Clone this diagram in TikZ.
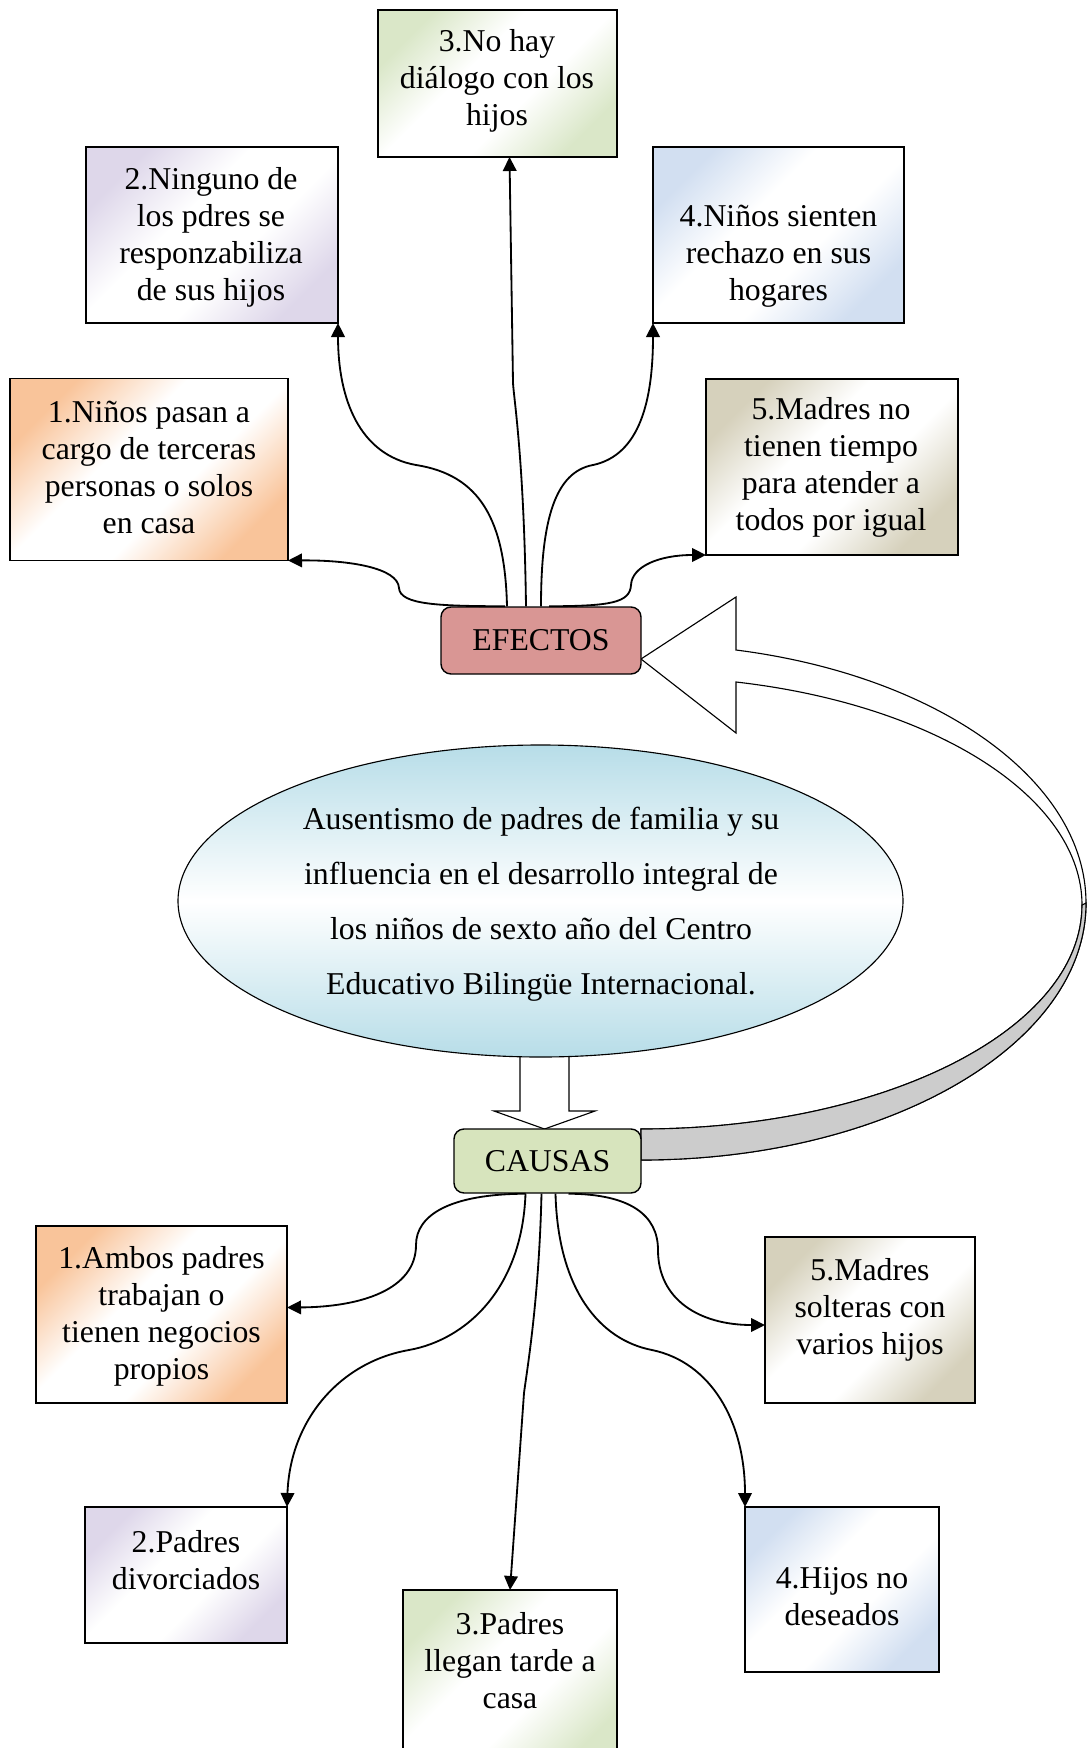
\documentclass[tikz,border=0pt]{standalone}
\usepackage{fontspec}
\setmainfont{Liberation Serif}
\usetikzlibrary{arrows.meta,calc,shapes.geometric}

\definecolor{naranja}{RGB}{249,196,154}
\definecolor{lila}{RGB}{222,215,234}
\definecolor{verde}{RGB}{218,231,200}
\definecolor{celeste}{RGB}{210,223,241}
\definecolor{arena}{RGB}{214,209,188}
\definecolor{rosa}{RGB}{217,150,148}
\definecolor{olivo}{RGB}{215,228,189}
\definecolor{cielo}{RGB}{183,221,232}
\definecolor{cinta}{RGB}{204,204,204}
\colorlet{tono}{white}

\pgfdeclarehorizontalshading[tono]{esquinas}{100bp}{color(0bp)=(tono); color(25bp)=(tono);
    color(42bp)=(white); color(58bp)=(white); color(75bp)=(tono); color(100bp)=(tono)}

\begin{document}
\begin{tikzpicture}[x=0.25mm, y=-0.25mm,
    caja/.style={draw, line width=1.1pt, inner sep=0pt, outer sep=0pt,
        /utils/exec={\colorlet{tono}{#1}}, shade, shading=esquinas, shading angle=-45},
    texto/.style={align=center, inner sep=0pt, font=\fontsize{22.6}{26.3}\selectfont},
    titulo/.style={draw, line width=1pt, rounded corners=2.5mm, inner sep=0pt,
        font=\fontsize{22.6}{26.3}\selectfont},
    flecha/.style={line width=1.3pt, -{Triangle[length=3.5mm, width=3.4mm]}}]

            \useasboundingbox (0,0) rectangle (1088,1748);
            \clip (0,0) rectangle (1088,1748);

            %flecha curva de causas a efectos
            \draw[line width=0.8pt, fill=white] (641,659) -- (736,597) -- (736,650)
                .. controls (940,676) and (1086,782) .. (1086,903)
                .. controls (1086,1045) and (887,1160) .. (641,1160)
                -- (641,1129)
                .. controls (885,1129) and (1082,1029) .. (1082,905)
                .. controls (1082,799) and (938,705) .. (736,682)
                -- (736,733) -- cycle;
            \draw[line width=0.8pt, fill=cinta] (1086,903)
                .. controls (1086,1045) and (887,1160) .. (641,1160)
                -- (641,1129)
                .. controls (885,1129) and (1082,1029) .. (1082,905) -- cycle;

            %flecha hacia causas
            \draw[line width=0.8pt, fill=white] (520,1040) -- (520,1111) -- (494,1111)
                -- (544.5,1129) -- (595,1111) -- (569,1111) -- (569,1040) -- cycle;

            %tema
            \node[ellipse, draw, line width=0.8pt, top color=cielo, bottom color=cielo,
                middle color=white, minimum width=181.25mm, minimum height=78mm,
                inner sep=0pt] (tema) at (540.5,901) {};
            \node[align=center, inner sep=0pt, font=\fontsize{22.6}{39}\selectfont]
                (temat) at (541,904) {Ausentismo de padres de familia y su\\influencia en el desarrollo integral de\\los niños de sexto año del Centro\\Educativo Bilingüe Internacional.};

            \node[titulo, fill=rosa, minimum width=50mm, minimum height=16.75mm] (ef) at (541,640.5) {EFECTOS};
            \node[titulo, fill=olivo, minimum width=46.75mm, minimum height=16mm] (ca) at (547.5,1161) {CAUSAS};

            %efectos
            \node[caja=naranja, minimum width=69.5mm, minimum height=45.5mm] (e1) at (149,469.5) {};
            \node[texto] (e1t) at (149,467.5) {1.Niños pasan a\\cargo de terceras\\personas o solos\\en casa};

            \node[caja=lila, minimum width=63mm, minimum height=44mm] (e2) at (212,235) {};
            \node[texto] (e2t) at (211,237) {2.Ninguno de\\los pdres se\\responzabiliza\\de sus hijos};

            \node[caja=verde, minimum width=59.75mm, minimum height=36.75mm] (e3) at (497.5,83.5) {};
            \node[texto] (e3t) at (497,81) {3.No hay\\diálogo con los\\hijos};

            \node[caja=celeste, minimum width=62.75mm, minimum height=44mm] (e4) at (778.5,235) {};
            \node[texto] (e4t) at (778.5,256) {4.Niños sienten\\rechazo en sus\\hogares};

            \node[caja=arena, minimum width=63mm, minimum height=44mm] (e5) at (832,467) {};
            \node[texto] (e5t) at (831,467.5) {5.Madres no\\tienen tiempo\\para atender a\\todos por igual};

            %causas
            \node[caja=naranja, minimum width=62.75mm, minimum height=44.25mm] (c1) at (161.5,1314.5) {};
            \node[texto] (c1t) at (161.5,1316) {1.Ambos padres\\trabajan o\\tienen negocios\\propios};

            \node[caja=lila, minimum width=50.5mm, minimum height=34mm] (c2) at (186,1575) {};
            \node[texto] (c2t) at (186,1560) {2.Padres\\divorciados};

            \node[caja=verde, minimum width=53.5mm, minimum height=45mm] (c3) at (510,1680) {};
            \node[texto] (c3t) at (510,1661) {3.Padres\\llegan tarde a\\casa};

            \node[caja=celeste, minimum width=48.5mm, minimum height=41.25mm] (c4) at (842,1589.5) {};
            \node[texto] (c4t) at (842,1597) {4.Hijos no\\deseados};

            \node[caja=arena, minimum width=52.5mm, minimum height=41.5mm] (c5) at (870,1320) {};
            \node[texto] (c5t) at (870,1310) {5.Madres\\solteras con\\varios hijos};

            %flechas de efectos
            \draw[flecha] ($(ef.north)+(-36,0)$) .. controls (440,606) and (400,605) .. (399,588)
                .. controls (398,568) and (350,560) .. (e1.south east);
            \draw[flecha] ($(ef.north)+(-34,0)$) .. controls (505,520) and (480,475) .. (416,465)
                .. controls (360,455) and (338,400) .. (e2.south east);
            \draw[flecha] ($(ef.north)+(-15,0)$) .. controls (524,460) and (514,400) .. (513,383)
                -- ($(e3.south)+(12,0)$);
            \draw[flecha] (ef.north) .. controls (541,520) and (555,472) .. (593,465)
                .. controls (640,455) and (653,400) .. (e4.south west);
            \draw[flecha] ($(ef.north)+(8,0)$) .. controls (610,606) and (630,603) .. (631,585)
                .. controls (632,566) and (660,555) .. (e5.south west);

            %flechas de causas
            \draw[flecha] ($(ca.south)+(-22,0)$) .. controls (450,1194) and (416,1215) .. (416,1245)
                .. controls (416,1290) and (360,1307) .. ($(c1.east)+(0,-7)$);
            \draw[flecha] ($(ca.south)+(-22,0)$) .. controls (522,1290) and (465,1340) .. (409,1350)
                .. controls (340,1362) and (290,1420) .. (c2.north east);
            \draw[flecha] ($(ca.south)+(-6,0)$) .. controls (539,1300) and (527,1370) .. (524,1393)
                -- (c3.north);
            \draw[flecha] ($(ca.south)+(8,0)$) .. controls (558,1290) and (600,1340) .. (652,1350)
                .. controls (710,1362) and (745,1420) .. (c4.north west);
            \draw[flecha] ($(ca.south)+(21,0)$) .. controls (630,1194) and (658,1215) .. (658,1250)
                .. controls (658,1300) and (700,1325) .. ($(c5.west)+(0,5)$);
        \end{tikzpicture}
\end{document}
